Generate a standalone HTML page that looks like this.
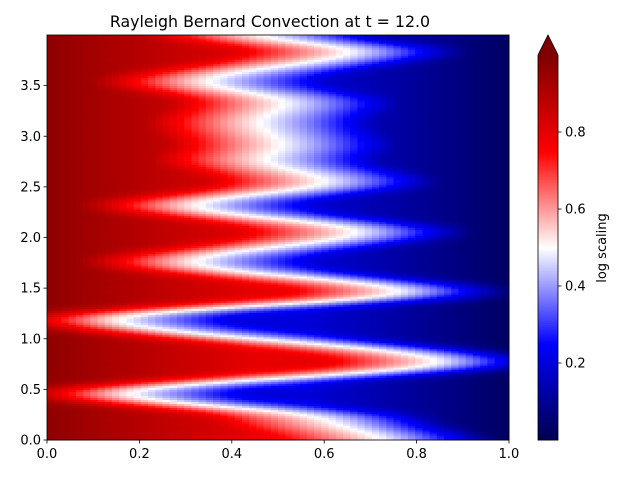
<!DOCTYPE html>
<html><head><meta charset="utf-8"><style>
body{margin:0;background:#fff;}
svg text{font-family:"DejaVu Sans","Liberation Sans",sans-serif;fill:#000;}
</style></head><body>
<svg id="c" width="640" height="480" xmlns="http://www.w3.org/2000/svg">
<text x="270" y="27" font-size="15.8" text-anchor="middle">Rayleigh Bernard Convection at t = 12.0</text>
<g id="heat"></g>
<g id="axes"></g>
<g id="cbar"></g>
<text transform="translate(606,248) rotate(-90)" font-size="13" text-anchor="middle">log scaling</text>
</svg>
<script>
// white contour (value 0.5) x-position at its turning points
const rowHeights = [0.0,0.2,0.46,0.77,1.20,1.465,1.76,2.06,2.32,2.55,2.77,2.91,3.14,3.34,3.54,3.85,4.0];
const boundaryX = [0.73,0.61,0.16,0.86,0.14,0.78,0.31,0.68,0.31,0.61,0.47,0.51,0.46,0.52,0.34,0.67,0.45];
const xTicks = [0.0,0.2,0.4,0.6,0.8,1.0];
const xTickLabels = ["0.0","0.2","0.4","0.6","0.8","1.0"];
const yTicks = [0.0,0.5,1.0,1.5,2.0,2.5,3.0,3.5];
const yTickLabels = ["0.0","0.5","1.0","1.5","2.0","2.5","3.0","3.5"];
const cbTicks = [0.2,0.4,0.6,0.8];
const cbTickLabels = ["0.2","0.4","0.6","0.8"];

const NS="http://www.w3.org/2000/svg";
const L=47,R=509,T=35,B=440;
const xs=v=>L+(R-L)*v, ys=v=>B-(B-T)*v/4;
const CT=55;
const cs=v=>B-(B-CT)*v;
function seismic(v){
  v=Math.max(0,Math.min(1,v));
  const st=[[0,[0,0,77]],[0.25,[0,0,255]],[0.5,[255,255,255]],[0.75,[255,0,0]],[1,[128,0,0]]];
  for(let i=0;i<4;i++){const a=st[i],b=st[i+1];
    if(v<=b[0]){const t=(v-a[0])/(b[0]-a[0]);
      return `rgb(${a[1].map((c,k)=>Math.round(c+(b[1][k]-c)*t)).join(',')})`;}}
  return 'rgb(128,0,0)';
}
const ease=t=>(1-Math.cos(Math.PI*t))/2;
function bAt(y){
  for(let i=0;i<rowHeights.length-1;i++){
    if(y<=rowHeights[i+1]){let t=(y-rowHeights[i])/(rowHeights[i+1]-rowHeights[i]);
      t=ease(t);
      return boundaryX[i]+(boundaryX[i+1]-boundaryX[i])*t;}}
  return boundaryX[boundaryX.length-1];
}
const cl=v=>Math.max(0,Math.min(1,v));
function field(x,y){
  const b=bAt(y),d=b-x,s=cl(Math.abs(d)/0.25);
  if(d>=0) return 0.5+s*(0.3+0.17*cl((0.45-x)/0.45));
  return 0.5-s*(0.3+0.17*cl((x-0.55)/0.45));
}
function mk(tag,attrs,parent){const e=document.createElementNS(NS,tag);for(const k in attrs)e.setAttribute(k,attrs[k]);parent.appendChild(e);return e;}
const heat=document.getElementById('heat');
const NX=64,NY=200;
const grid=[];
for(let j=0;j<NY;j++){
  const row=[];
  for(let i=0;i<NX;i++) row.push(field((i+0.5)/NX,4*(j+0.5)/NY));
  grid.push(row);
}
const S=2,w=[];let ws=0;
for(let k=-2*S;k<=2*S;k++){const g=Math.exp(-k*k/(2*S*S));w.push(g);ws+=g;}
for(let j=0;j<NY;j++){
  const y0=4*j/NY,y1=4*(j+1)/NY;
  for(let i=0;i<NX;i++){
    let v=0;
    for(let k=-2*S;k<=2*S;k++){const jj=Math.max(0,Math.min(NY-1,j+k));v+=grid[jj][i]*w[k+2*S];}
    v/=ws;
    const x0=i/NX,x1=(i+1)/NX;
    const r=mk('rect',{x:xs(x0),y:ys(y1),width:xs(x1)-xs(x0)+0.5,height:ys(y0)-ys(y1)+0.5,fill:seismic(v)},heat);
    
    
  }
}
const ax=document.getElementById('axes');
mk('rect',{x:L,y:T,width:R-L,height:B-T,fill:'none',stroke:'#000','stroke-width':0.8},ax);
xTicks.forEach((t,i)=>{
  mk('line',{x1:xs(t),x2:xs(t),y1:B,y2:B+3.5,stroke:'#000','stroke-width':0.8},ax);
  const tx=mk('text',{x:xs(t),y:B+18,'font-size':13,'text-anchor':'middle'},ax);tx.textContent=xTickLabels[i];
  
  
});
yTicks.forEach((t,i)=>{
  mk('line',{x1:L-3.5,x2:L,y1:ys(t),y2:ys(t),stroke:'#000','stroke-width':0.8},ax);
  const tx=mk('text',{x:L-6,y:ys(t)+4.5,'font-size':13,'text-anchor':'end'},ax);tx.textContent=yTickLabels[i];
  
  
});
const cb=document.getElementById('cbar');
const CL=538,CR=558;
for(let k=0;k<200;k++){
  const v0=k/200,v1=(k+1)/200;
  mk('rect',{x:CL,y:cs(v1),width:CR-CL,height:cs(v0)-cs(v1)+0.5,fill:seismic((v0+v1)/2)},cb);
}
mk('polygon',{points:`${CL},${CT} ${CR},${CT} ${(CL+CR)/2},35`,fill:seismic(1)},cb);
mk('polygon',{points:`${CL},${B} ${CL},${CT} ${(CL+CR)/2},35 ${CR},${CT} ${CR},${B}`,fill:'none',stroke:'#000','stroke-width':0.8},cb);
cbTicks.forEach((t,i)=>{
  mk('line',{x1:CR,x2:CR+3.5,y1:cs(t),y2:cs(t),stroke:'#000','stroke-width':0.8},cb);
  const tx=mk('text',{x:CR+7,y:cs(t)+4.5,'font-size':13},cb);tx.textContent=cbTickLabels[i];
  
  
});
</script>
</body></html>
